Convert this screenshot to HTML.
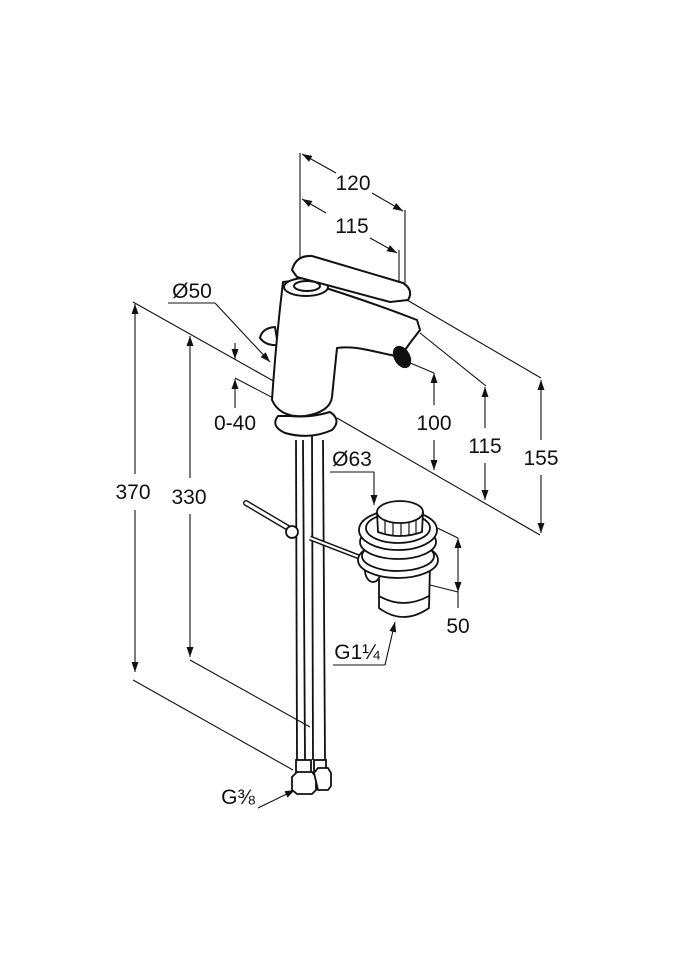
<!DOCTYPE html>
<html><head><meta charset="utf-8"><style>
html,body{margin:0;padding:0;background:#fff;}
svg{display:block}
text{font-family:"Liberation Sans",sans-serif;font-size:21px;fill:#111;text-anchor:middle;}
</style></head><body>
<svg width="675" height="960" viewBox="0 0 675 960" xmlns="http://www.w3.org/2000/svg">
<defs>
<marker id="a" viewBox="0 0 10 10" refX="10" refY="5" markerWidth="10" markerHeight="10" orient="auto-start-reverse" markerUnits="userSpaceOnUse"><path d="M0,1.5 L10,5 L0,8.5 z" fill="#111"/></marker>
</defs>
<g stroke="#111" stroke-width="1.1" fill="none">
<line x1="300" y1="153" x2="300" y2="380"/>
<line x1="405" y1="210" x2="405" y2="300"/>
<line x1="399" y1="250" x2="399" y2="300"/>
<line x1="302" y1="154" x2="336" y2="173" marker-start="url(#a)"/>
<line x1="372" y1="193" x2="403" y2="211" marker-end="url(#a)"/>
<line x1="302" y1="199" x2="326" y2="213" marker-start="url(#a)"/>
<line x1="370" y1="238" x2="397" y2="253" marker-end="url(#a)"/>
<line x1="133" y1="302" x2="277" y2="383"/>
<line x1="337" y1="418" x2="540" y2="535"/>
<line x1="235" y1="378" x2="300" y2="412"/>
<line x1="407" y1="300" x2="541" y2="378"/>
<line x1="420" y1="333" x2="486" y2="386"/>
<line x1="408" y1="362" x2="434" y2="373"/>
<line x1="434" y1="373" x2="434" y2="405" marker-start="url(#a)"/>
<line x1="434" y1="440" x2="434" y2="470" marker-end="url(#a)"/>
<line x1="485" y1="387" x2="485" y2="428" marker-start="url(#a)"/>
<line x1="485" y1="463" x2="485" y2="500" marker-end="url(#a)"/>
<line x1="541" y1="380" x2="541" y2="440" marker-start="url(#a)"/>
<line x1="541" y1="475" x2="541" y2="533" marker-end="url(#a)"/>
<line x1="235" y1="343" x2="235" y2="359" marker-end="url(#a)"/>
<line x1="235" y1="408" x2="235" y2="379" marker-end="url(#a)"/>
<line x1="168" y1="303" x2="215" y2="303"/>
<line x1="215" y1="303" x2="270" y2="362" marker-end="url(#a)"/>
<line x1="135" y1="304" x2="135" y2="474" marker-start="url(#a)"/>
<line x1="135" y1="510" x2="135" y2="672" marker-end="url(#a)"/>
<line x1="133" y1="680" x2="293" y2="770"/>
<line x1="190" y1="336" x2="190" y2="478" marker-start="url(#a)"/>
<line x1="190" y1="514" x2="190" y2="657" marker-end="url(#a)"/>
<line x1="190" y1="660" x2="310" y2="727"/>
<line x1="330" y1="472" x2="374" y2="472"/>
<line x1="374" y1="472" x2="374" y2="505" marker-end="url(#a)"/>
<line x1="400" y1="510" x2="458" y2="538"/>
<line x1="430" y1="585" x2="458" y2="592"/>
<line x1="458" y1="538" x2="458" y2="592" marker-start="url(#a)" marker-end="url(#a)"/>
<line x1="458" y1="592" x2="458" y2="608"/>
<line x1="333" y1="665" x2="385" y2="665"/>
<line x1="385" y1="665" x2="395" y2="622" marker-end="url(#a)"/>
<line x1="258" y1="808" x2="295" y2="790" marker-end="url(#a)"/>
</g>
<!-- hoses -->
<g stroke="#111" stroke-width="1.8" fill="none">
<line x1="296" y1="440" x2="297" y2="760"/>
<line x1="303" y1="440" x2="305" y2="760"/>
<line x1="312" y1="432" x2="313" y2="760"/>
<line x1="323" y1="440" x2="325" y2="760"/>
<rect x="296" y="760" width="15" height="14" fill="#fff"/>
<rect x="314" y="760" width="12" height="12" fill="#fff"/>
<path d="M292,777 L297,772 L312,772 L316,777 L316,790 L312,794 L297,794 L292,790 Z" fill="#fff"/>
<path d="M314,773 L318,768 L328,768 L331,773 L331,786 L328,790 L318,790 Z" fill="#fff"/>
</g>
<!-- faucet -->
<g stroke="#111" stroke-width="2" fill="#fff" stroke-linejoin="round">
<path d="M260,338 Q262,328 275,327 L278,345 Q266,346 260,338 Z"/>
<path d="M283,282 Q276,340 272,400 Q280,418 305,416 Q330,412 332,397 L337,348 Q350,346 368,350 L400,357 L410,343 L420,330 L417,320 Q360,298 300,280 Z"/>
<ellipse cx="306" cy="287" rx="22" ry="9"/>
<ellipse cx="307" cy="286" rx="13" ry="5"/>
<path d="M292,270 Q296,255 312,256 L403,283 Q414,290 408,300 L390,302 L297,277 Z"/>
<ellipse cx="402" cy="357" rx="7" ry="11" transform="rotate(-30 402 357)" fill="#111"/>
<path d="M278,416 Q270,426 285,433 Q310,440 332,430 Q342,420 330,412 Q310,418 290,416 Z"/>
</g>
<g stroke="#111" stroke-width="1.8" fill="none">
<line x1="246" y1="503" x2="290" y2="529" stroke-width="6" stroke-linecap="round"/>
<line x1="246" y1="503" x2="290" y2="529" stroke="#fff" stroke-width="3.2" stroke-linecap="round"/>
<circle cx="292" cy="532" r="6" fill="#fff"/>
<line x1="310" y1="538" x2="372" y2="562" stroke-width="5"/>
<line x1="310" y1="538" x2="372" y2="562" stroke="#fff" stroke-width="2.2"/>
<!-- waste -->
<path d="M379,565 L379,608 Q403,626 429,608 L430,565 Z" fill="#fff"/>
<path d="M379,596 Q403,610 429,596"/>
<ellipse cx="373" cy="570" rx="8" ry="12" fill="#fff"/>
<ellipse cx="398" cy="560" rx="40" ry="18" fill="#fff"/>
<ellipse cx="398" cy="556" rx="36" ry="15" fill="#fff"/>
<path d="M362,548 Q398,525 434,548"/>
<ellipse cx="398" cy="542" rx="38" ry="17" fill="#fff"/>
<ellipse cx="398" cy="530" rx="39" ry="20" fill="#fff"/>
<ellipse cx="398" cy="528" rx="32" ry="15"/>
<path d="M377,512 L378,532 Q400,540 422,532 L423,512" fill="#fff"/>
<path d="M385,520 L385,534 M393,522 L393,536 M401,522 L401,536 M409,522 L409,535 M416,520 L416,533" stroke-width="1.2"/>
<ellipse cx="400" cy="512" rx="23" ry="11" fill="#fff"/>
</g>
<text x="353" y="190">120</text>
<text x="352" y="233">115</text>
<text x="192" y="298">Ø50</text>
<text x="235" y="430">0-40</text>
<text x="434" y="430">100</text>
<text x="485" y="453">115</text>
<text x="541" y="465">155</text>
<text x="133" y="499">370</text>
<text x="189" y="504">330</text>
<text x="352" y="466">Ø63</text>
<text x="458" y="633">50</text>
<text x="357" y="659">G1¼</text>
<text x="238" y="804">G⅜</text>
</svg>
</body></html>
